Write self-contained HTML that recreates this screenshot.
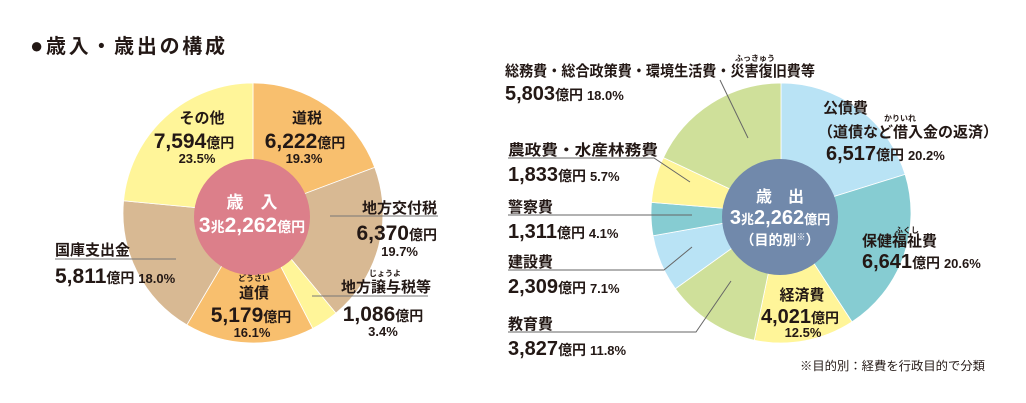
<!DOCTYPE html>
<html><head><meta charset="utf-8">
<style>
body{margin:0;background:#fff;}
svg{display:block;font-family:"Liberation Sans","Noto Sans CJK JP",sans-serif;}
.b{font-weight:bold;fill:#231815;}
.w{fill:#fff;font-weight:bold;}
</style></head><body>
<svg id="s" width="1026" height="403" viewBox="0 0 1026 403" xmlns="http://www.w3.org/2000/svg">
<g id="pies"></g>
<text x="30" y="53" class="b" font-size="20" textLength="195" lengthAdjust="spacing"><tspan font-size="22">●</tspan>歳入・歳出の構成</text>

<!-- left pie labels -->
<circle cx="252" cy="217" r="58" fill="#dc7f8a"/>
<text x="252" y="208" class="w" font-size="17" text-anchor="middle">歳　入</text>
<text x="252" y="232" class="w" text-anchor="middle"><tspan font-size="21">3</tspan><tspan font-size="14">兆</tspan><tspan font-size="21">2,262</tspan><tspan font-size="14">億円</tspan></text>

<text x="202" y="123" class="b" font-size="15" text-anchor="middle">その他</text>
<text x="194" y="148" class="b" text-anchor="middle"><tspan font-size="21">7,594</tspan><tspan font-size="14">億円</tspan></text>
<text x="197" y="163" class="b" font-size="13" text-anchor="middle">23.5%</text>

<text x="307" y="123" class="b" font-size="15" text-anchor="middle">道税</text>
<text x="305" y="148" class="b" text-anchor="middle"><tspan font-size="21">6,222</tspan><tspan font-size="14">億円</tspan></text>
<text x="304" y="163" class="b" font-size="13" text-anchor="middle">19.3%</text>

<text x="437" y="213" class="b" font-size="15" text-anchor="end">地方交付税</text>
<line x1="330" y1="216" x2="438" y2="216" stroke="#777" stroke-width="1"/>
<text x="437" y="240" class="b" text-anchor="end"><tspan font-size="21">6,370</tspan><tspan font-size="14">億円</tspan></text>
<text x="418" y="256" class="b" font-size="13" text-anchor="end">19.7%</text>

<text x="385" y="276" class="b" font-size="8" text-anchor="middle">じょうよ</text>
<text x="431" y="292" class="b" font-size="15" text-anchor="end">地方譲与税等</text>
<line x1="312" y1="296" x2="428" y2="296" stroke="#777" stroke-width="1"/>
<text x="383" y="321" class="b" text-anchor="middle"><tspan font-size="21">1,086</tspan><tspan font-size="14">億円</tspan></text>
<text x="383" y="336" class="b" font-size="13" text-anchor="middle">3.4%</text>

<text x="254" y="281" class="b" font-size="8" text-anchor="middle">どうさい</text>
<text x="254" y="298" class="b" font-size="15" text-anchor="middle">道債</text>
<text x="251" y="322" class="b" text-anchor="middle"><tspan font-size="21">5,179</tspan><tspan font-size="14">億円</tspan></text>
<text x="252" y="337" class="b" font-size="13" text-anchor="middle">16.1%</text>

<text x="55" y="255" class="b" font-size="15">国庫支出金</text>
<line x1="55" y1="259" x2="176" y2="259" stroke="#777" stroke-width="1"/>
<text x="55" y="283" class="b"><tspan font-size="21">5,811</tspan><tspan font-size="14">億円 </tspan><tspan font-size="13">18.0%</tspan></text>

<!-- right pie -->
<circle cx="780" cy="217" r="58" fill="#7189ab"/>
<text x="780" y="202" class="w" font-size="16" text-anchor="middle">歳　出</text>
<text x="780" y="224" class="w" text-anchor="middle"><tspan font-size="20">3</tspan><tspan font-size="13">兆</tspan><tspan font-size="20">2,262</tspan><tspan font-size="13">億円</tspan></text>
<text x="780" y="245" class="w" font-size="14" text-anchor="middle">（目的別<tspan font-size="9" dy="-5">※</tspan><tspan dy="5">）</tspan></text>

<text x="755" y="61" class="b" font-size="8" text-anchor="middle">ふっきゅう</text>
<text x="505" y="76" class="b" font-size="15" textLength="310" lengthAdjust="spacingAndGlyphs">総務費・総合政策費・環境生活費・災害復旧費等</text>
<text x="505" y="100" class="b"><tspan font-size="20">5,803</tspan><tspan font-size="14">億円 </tspan><tspan font-size="13">18.0%</tspan></text>
<line x1="720" y1="80" x2="748" y2="138" stroke="#666" stroke-width="1"/>

<text x="823" y="113" class="b" font-size="15">公債費</text>
<text x="900" y="121" class="b" font-size="8" text-anchor="middle">かりいれ</text>
<text x="818" y="137" class="b" font-size="15">（道債など借入金の返済）</text>
<text x="826" y="160" class="b"><tspan font-size="20">6,517</tspan><tspan font-size="14">億円 </tspan><tspan font-size="13">20.2%</tspan></text>

<text x="907" y="233" class="b" font-size="8" text-anchor="middle">ふくし</text>
<text x="862" y="246" class="b" font-size="15">保健福祉費</text>
<text x="862" y="268" class="b"><tspan font-size="20">6,641</tspan><tspan font-size="14">億円 </tspan><tspan font-size="13">20.6%</tspan></text>

<text x="802" y="300" class="b" font-size="15" text-anchor="middle">経済費</text>
<text x="800" y="323" class="b" text-anchor="middle"><tspan font-size="20">4,021</tspan><tspan font-size="14">億円</tspan></text>
<text x="803" y="337" class="b" font-size="13" text-anchor="middle">12.5%</text>

<text x="508" y="155" class="b" font-size="15" textLength="150" lengthAdjust="spacingAndGlyphs">農政費・水産林務費</text>
<polyline points="508,158 654,158 690,182" fill="none" stroke="#666" stroke-width="1"/>
<text x="508" y="181" class="b"><tspan font-size="20">1,833</tspan><tspan font-size="14">億円 </tspan><tspan font-size="13">5.7%</tspan></text>

<text x="508" y="212" class="b" font-size="15">警察費</text>
<line x1="508" y1="215" x2="692" y2="215" stroke="#666" stroke-width="1"/>
<text x="508" y="238" class="b"><tspan font-size="20">1,311</tspan><tspan font-size="14">億円 </tspan><tspan font-size="13">4.1%</tspan></text>

<text x="508" y="267" class="b" font-size="15">建設費</text>
<polyline points="508,270 664,270 692,247" fill="none" stroke="#666" stroke-width="1"/>
<text x="508" y="293" class="b"><tspan font-size="20">2,309</tspan><tspan font-size="14">億円 </tspan><tspan font-size="13">7.1%</tspan></text>

<text x="508" y="329" class="b" font-size="15">教育費</text>
<polyline points="508,332 696,332 731,281" fill="none" stroke="#666" stroke-width="1"/>
<text x="508" y="355" class="b"><tspan font-size="20">3,827</tspan><tspan font-size="14">億円 </tspan><tspan font-size="13">11.8%</tspan></text>

<text x="985" y="370" font-size="12" text-anchor="end" fill="#231815" textLength="185" lengthAdjust="spacingAndGlyphs">※目的別：経費を行政目的で分類</text>
</svg>
<script>
function pie(cx,cy,r,data){
  var g=document.getElementById('pies'),a=0,ns='http://www.w3.org/2000/svg';
  data.forEach(function(d){
    var a0=a*2*Math.PI/100, a1=(a+d[0])*2*Math.PI/100; a+=d[0];
    var x0=cx+r*Math.sin(a0),y0=cy-r*Math.cos(a0),x1=cx+r*Math.sin(a1),y1=cy-r*Math.cos(a1);
    var p=document.createElementNS(ns,'path');
    p.setAttribute('d','M'+cx+','+cy+'L'+x0+','+y0+'A'+r+','+r+' 0 '+(d[0]>50?1:0)+' 1 '+x1+','+y1+'Z');
    p.setAttribute('fill',d[1]);p.setAttribute('stroke','#fff');p.setAttribute('stroke-width','0.8');
    g.appendChild(p);
  });
}
pie(253,213,130,[[19.3,'#f8bf6e'],[19.7,'#d8b993'],[3.4,'#fff599'],[16.1,'#f8bf6e'],[18.0,'#d8b993'],[23.5,'#fff599']]);
pie(781,213,130,[[20.2,'#b9e3f5'],[20.6,'#86ccd2'],[12.5,'#fff599'],[11.8,'#cfe09a'],[7.1,'#b9e3f5'],[4.1,'#86ccd2'],[5.7,'#fff599'],[18.0,'#cfe09a']]);
</script>
</body></html>
